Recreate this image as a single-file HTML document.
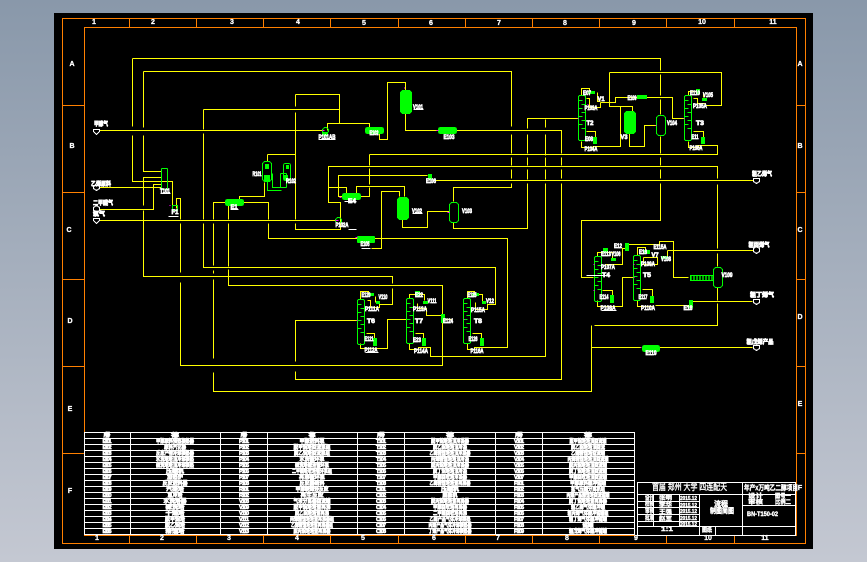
<!DOCTYPE html>
<html><head><meta charset="utf-8"><style>
html,body{margin:0;padding:0;width:867px;height:562px;overflow:hidden;background:linear-gradient(#8998aa,#c4c8d2)}
svg{display:block;position:absolute;left:0;top:0}
text{font-family:"Liberation Sans","Noto Sans CJK SC",sans-serif;fill:#fff}
.l text{font-size:6px;font-weight:bold;stroke:#fff;stroke-width:.7;text-anchor:middle}
.t text{font-size:5.5px;font-weight:bold;stroke:#fff;stroke-width:.65;text-anchor:middle}
.z text{font-size:7px;font-weight:bold;stroke:#fff;stroke-width:.3;text-anchor:middle}
.b text{stroke:#fff;stroke-width:.4}
</style></head><body>
<svg width="867" height="562" viewBox="0 0 867 562" xmlns="http://www.w3.org/2000/svg">
<defs>
<g id="col">
<path d="M1 0H6L7 1V44L6 45H1L0 44V1Z" fill="none" stroke="#0f0"/>
<path d="M0 5H4M3 9H7M0 13H4M3 17H7M0 21H4M3 25H7M0 29H4M3 33H7" stroke="#0f0" fill="none"/>
</g>
</defs>
<rect x="54" y="13" width="759" height="536" fill="#000"/>
<g transform="translate(.5,.5)" fill="none" shape-rendering="crispEdges">
<g stroke="#ff8000">
<rect x="62" y="18" width="743" height="525"/>
<rect x="84" y="27" width="712" height="508"/>
<path d="M129 18V27M196 18V27M263 18V27M330 18V27M398 18V27M465 18V27M532 18V27M599 18V27M666 18V27M734 18V27"/>
<path d="M129 535V543M196 535V543M263 535V543M330 535V543M398 535V543M465 535V543M532 535V543M599 535V543M666 535V543M734 535V543"/>
<path d="M62 105H84M62 192H84M62 279H84M62 366H84M62 453H84"/>
<path d="M796 105H805M796 192H805M796 279H805M796 366H805M796 453H805"/>
</g>
<g stroke="#ff0">
<path d="M132 58V126M132 135V181H172V207"/>
<path d="M132 58H660V70M660 74V95M660 99V114M660 136V153M660 157V165M660 169V178M660 183V220H581V277H593"/>
<path d="M143 71H511V126M511 134V153M511 157V165M511 169V178M511 183V187H453V201"/>
<path d="M143 71V127M143 135V171H161M161 177H143V205M143 210V276H392V283M392 288V304H379V307H367"/>
<path d="M98 187H161M99 209H153V184H161"/>
<path d="M99 220H336M95 130H322"/>
<path d="M203 109H339M295 94H339V123M327 130V123H369V127"/>
<path d="M203 109V129M203 133V219M203 223V267H495V304H487V309H475"/>
<path d="M295 94V106M295 112V219M295 223V229H340V202H328V166H717V178M717 184V248M717 253V266M717 287V300M717 303V325H594"/>
<path d="M591 325V391H213V372M213 358V279M213 273V270M213 265V223M213 219V202H226"/>
<path d="M228 205V219M228 223V266M228 269V285H442V314M442 322V365H180V282M180 272V223M180 219V198H176V208"/>
<path d="M243 202H268V219M268 223V238H357M374 238H507V347H474"/>
<path d="M371 248H381V191H399V196M402 219V227H427V211H449"/>
<path d="M453 222V228H527V183M527 179V169M527 165V157M527 153V134M527 128V118H577"/>
<path d="M545 119V127M545 134V155M545 157V166M545 169V179M545 183V356H430V347H418"/>
<path d="M456 130H561V153M561 157V165M561 169V178M561 183V379H295V371M295 361V320H356"/>
<path d="M379 133V139H387V82H405V90M405 113V130H436"/>
<path d="M369 154V165M369 168V184M369 187V196H360M369 154H717V145H696"/>
<path d="M427 175H338V196H342M346 193V187H328M356 195V186H404V196"/>
<path d="M432 180H753"/>
<path d="M264 182V196H239V202M267 154H295M267 154V161"/>
<!-- top right -->
<path d="M581 95V88H589V92M597 92V101H600M600 102H615V97H637M646 97H672V118H684"/>
<path d="M586 98H589V107H600V102M609 72V106H632V111M609 72H721V105H705"/>
<path d="M620 106V146H592M586 131H595V137M581 141V147H593M629 133V146H644V125H655"/>
<path d="M688 95V91H697M703 92V97M693 98H697V103H705M693 131H703V137M688 141V147H700"/>
<!-- bottom right -->
<path d="M597 256V252H612V259M605 264H622V248H625M628 244H659V241H673V277H688"/>
<path d="M581 277H593M602 290H612V295M597 300V306H622V277H633M637 255V247H645V251"/>
<path d="M667 250H754M667 250V257M643 257H657V264H643V257M642 289H652V296M637 300V306H653M655 305H689M692 301H752"/>
<path d="M591 347H641M659 347H752"/>
<!-- mid -->
<path d="M360 299V291H368V294M375 296V302M367 300H370V307H379V302M366 333H374V338M360 343V348H387V319H406"/>
<path d="M409 298V294H415M419 294H424V300M417 303V308H426V315H441M415 333H423V338M409 343V349H418V347H430V356"/>
<path d="M444 319H452"/>
<path d="M467 298V291H474V294M478 294H482V303M475 302V309H487V304M472 333H481V338M467 343V349H474V347H507"/>
</g>
<g stroke="#0f0">
<!-- vessels -->
<rect x="400" y="90" width="11" height="23" rx="3" fill="#0f0"/>
<rect x="397" y="197" width="11" height="22" rx="3" fill="#0f0"/>
<rect x="624" y="111" width="11" height="22" rx="3" fill="#0f0"/>
<rect x="449" y="202" width="9" height="20" rx="3"/>
<rect x="656" y="115" width="9" height="20" rx="3"/>
<rect x="713" y="267" width="9" height="20" rx="3"/>
<rect x="161" y="168" width="6" height="21" rx="1"/>
<rect x="262" y="161" width="9" height="20" rx="3"/>
<rect x="283" y="163" width="7" height="17" rx="2"/>
<rect x="280" y="173" width="6" height="14" rx="1"/>
<path d="M267 181V190H281M272 173V187H280"/>
<rect x="264" y="175" width="5" height="6" fill="#0f0"/>
<rect x="265" y="164" width="3" height="4" fill="#0f0"/>
<rect x="284" y="175" width="3" height="4" fill="#0f0"/>
<rect x="286" y="165" width="2" height="3" fill="#0f0"/>
<!-- exchangers -->
<rect x="225" y="199" width="18" height="6" rx="2" fill="#0f0"/>
<rect x="365" y="127" width="18" height="6" rx="2" fill="#0f0"/>
<rect x="438" y="127" width="18" height="6" rx="2" fill="#0f0"/>
<rect x="342" y="193" width="18" height="6" rx="2" fill="#0f0"/>
<rect x="357" y="236" width="17" height="6" rx="1" fill="#0f0"/>
<rect x="642" y="345" width="17" height="6" rx="2" fill="#0f0"/>
<rect x="637" y="95" width="9" height="3" fill="#0f0"/>
<rect x="690" y="275" width="23" height="5" fill="#0a0"/>
<path d="M692 275V280M695 275V280M698 275V280M701 275V280M704 275V280M707 275V280M710 275V280" stroke="#000"/>
<path d="M690 275H713V280H690Z"/>
<!-- pumps -->
<circle cx="325" cy="130" r="3"/>
<rect x="322" y="132" width="5" height="3" fill="#0f0"/>
<circle cx="338" cy="220" r="3"/>
<rect x="172" y="205" width="5" height="5"/>
<rect x="428" y="174" width="3" height="5" fill="#0f0"/>
<use href="#col" x="578" y="95"/>
<use href="#col" x="684" y="95"/>
<use href="#col" x="594" y="256"/>
<use href="#col" x="633" y="255"/>
<use href="#col" x="357" y="299"/>
<use href="#col" x="406" y="298"/>
<use href="#col" x="463" y="298"/>
<!-- small blocks -->
<g fill="#0f0">
<rect x="588" y="91" width="6" height="2"/>
<rect x="593" y="137" width="3" height="6"/>
<rect x="696" y="89" width="3" height="4"/>
<rect x="702" y="98" width="4" height="2"/>
<rect x="701" y="137" width="3" height="6"/>
<rect x="603" y="248" width="4" height="4"/>
<rect x="611" y="258" width="4" height="2"/>
<rect x="610" y="295" width="3" height="7"/>
<rect x="625" y="243" width="3" height="7"/>
<rect x="643" y="250" width="6" height="3"/>
<rect x="661" y="256" width="6" height="2"/>
<rect x="650" y="296" width="3" height="6"/>
<rect x="689" y="300" width="3" height="7"/>
<rect x="369" y="293" width="4" height="2"/>
<rect x="376" y="301" width="3" height="2"/>
<rect x="373" y="338" width="3" height="7"/>
<rect x="415" y="291" width="4" height="5"/>
<rect x="423" y="301" width="4" height="2"/>
<rect x="422" y="338" width="3" height="7"/>
<rect x="441" y="314" width="3" height="8"/>
<rect x="472" y="293" width="6" height="2"/>
<rect x="482" y="301" width="3" height="2"/>
<rect x="480" y="338" width="3" height="7"/>
</g>
</g>
<g stroke="#f0f">
<path d="M322 130H324M335 220H338M436 130H438M404 87V88M447 212H449M339 197H341M355 237H357M169 205H170M577 118H578M683 118H684M655 125H656M587 104H588M593 290H594M633 277H634M356 320H357M463 319H464M640 347H641M593 264H594M633 264H634"/>
</g>
<g stroke="#fff">
<rect x="84" y="432" width="550" height="102"/>
<path d="M84 438H634M84 444H634M84 450H634M84 456H634M84 462H634M84 468H634M84 474H634M84 480H634M84 486H634M84 492H634M84 498H634M84 504H634M84 510H634M84 516H634M84 522H634M84 528H634"/>
<path d="M130 432V534M220 432V534M267 432V534M357 432V534M404 432V534M495 432V534M542 432V534"/>
<rect x="637" y="482" width="158" height="53"/>
<path d="M637 494H795M637 501H699M637 507H699M637 514H699M637 521H699M637 526H795M742 482V535M699 494V535M715 526V535M742 505H795M653 494V526M679 494V526"/>
<path d="M318 139H335M348 229H356M413 109H423M412 213H422M361 248H370M160 193H170M168 216H178M230 209H238M344 201H356M586 275H610M601 310H616M365 352H378"/>
</g>
<g stroke="#fff" fill="#000">
<path d="M93 129H99V131L96 134L93 131Z"/>
<path d="M93 185H99V188L96 190L93 188Z"/>
<path d="M93 207L96 205L99 207V210L96 212L93 210Z"/>
<path d="M93 218H99V220L96 223L93 220Z"/>
<path d="M753 178H759V181L756 183L753 181Z"/>
<path d="M753 248L756 246L759 248V251L756 253L753 251Z"/>
<path d="M753 299H759V302L756 304L753 302Z"/>
<path d="M753 345H759V348L756 350L753 348Z"/>
</g>
</g>
<g class="z">
<text x="94" y="24">1</text><text x="153" y="24">2</text><text x="232" y="24">3</text><text x="298" y="24">4</text><text x="364" y="25">5</text><text x="431" y="25">6</text><text x="499" y="25">7</text><text x="565" y="25">8</text><text x="634" y="25">9</text><text x="702" y="24">10</text><text x="773" y="24">11</text>
<text x="97" y="540">1</text><text x="162" y="540">2</text><text x="229" y="540">3</text><text x="297" y="540">4</text><text x="363" y="540">5</text><text x="434" y="540">6</text><text x="498" y="540">7</text><text x="567" y="540">8</text><text x="636" y="540">9</text><text x="708" y="540">10</text><text x="765" y="540">11</text>
<text x="72" y="66">A</text><text x="72" y="148">B</text><text x="69" y="232">C</text><text x="70" y="323">D</text><text x="70" y="411">E</text><text x="70" y="493">F</text>
<text x="800" y="66">A</text><text x="800" y="148">B</text><text x="800" y="232">C</text><text x="800" y="319">D</text><text x="800" y="406">E</text><text x="800" y="490">F</text>
</g>
<g class="l">
<text x="101" y="126" textLength="14" lengthAdjust="spacingAndGlyphs">甲醇气</text>
<text x="101" y="186" textLength="20" lengthAdjust="spacingAndGlyphs">乙烯原料</text>
<text x="103" y="205" textLength="20" lengthAdjust="spacingAndGlyphs">二甲醚气</text>
<text x="99" y="216" textLength="12" lengthAdjust="spacingAndGlyphs">氧气</text>
<text x="762" y="176" textLength="20" lengthAdjust="spacingAndGlyphs">粗乙烯气</text>
<text x="759" y="247" textLength="21" lengthAdjust="spacingAndGlyphs">粗丙烯气</text>
<text x="762" y="297" textLength="24" lengthAdjust="spacingAndGlyphs">粗丁烯气</text>
<text x="760" y="344" textLength="27" lengthAdjust="spacingAndGlyphs">粗戊烯产品</text>
<text x="165" y="193" textLength="10" lengthAdjust="spacingAndGlyphs">T101</text>
<text x="175" y="214" textLength="7" lengthAdjust="spacingAndGlyphs">F1</text>
<text x="234" y="209" textLength="7" lengthAdjust="spacingAndGlyphs">E1</text>
<text x="257" y="176" textLength="9" lengthAdjust="spacingAndGlyphs">R101</text>
<text x="291" y="183" textLength="10" lengthAdjust="spacingAndGlyphs">R102</text>
<text x="327" y="139" textLength="17" lengthAdjust="spacingAndGlyphs">P101AB</text>
<text x="342" y="227" textLength="13" lengthAdjust="spacingAndGlyphs">P102A</text>
<text x="374" y="135" textLength="9" lengthAdjust="spacingAndGlyphs">E102</text>
<text x="418" y="109" textLength="10" lengthAdjust="spacingAndGlyphs">V101</text>
<text x="449" y="139" textLength="11" lengthAdjust="spacingAndGlyphs">E103</text>
<text x="352" y="203" textLength="8" lengthAdjust="spacingAndGlyphs">E4</text>
<text x="417" y="213" textLength="10" lengthAdjust="spacingAndGlyphs">V102</text>
<text x="467" y="213" textLength="10" lengthAdjust="spacingAndGlyphs">V103</text>
<text x="365" y="246" textLength="9" lengthAdjust="spacingAndGlyphs">E105</text>
<text x="431" y="183" textLength="10" lengthAdjust="spacingAndGlyphs">E106</text>
<text x="587" y="95" textLength="8" lengthAdjust="spacingAndGlyphs">E07</text>
<text x="601" y="101" textLength="7" lengthAdjust="spacingAndGlyphs">V1</text>
<text x="591" y="110" textLength="13" lengthAdjust="spacingAndGlyphs">P103A</text>
<text x="590" y="125" textLength="7" lengthAdjust="spacingAndGlyphs">T2</text>
<text x="589" y="141" textLength="8" lengthAdjust="spacingAndGlyphs">E08</text>
<text x="591" y="151" textLength="13" lengthAdjust="spacingAndGlyphs">P104A</text>
<text x="632" y="100" textLength="9" lengthAdjust="spacingAndGlyphs">E109</text>
<text x="624" y="139" textLength="7" lengthAdjust="spacingAndGlyphs">V3</text>
<text x="672" y="125" textLength="10" lengthAdjust="spacingAndGlyphs">V104</text>
<text x="695" y="95" textLength="10" lengthAdjust="spacingAndGlyphs">E110</text>
<text x="708" y="97" textLength="10" lengthAdjust="spacingAndGlyphs">V105</text>
<text x="700" y="108" textLength="14" lengthAdjust="spacingAndGlyphs">P105A</text>
<text x="700" y="125" textLength="8" lengthAdjust="spacingAndGlyphs">T3</text>
<text x="695" y="139" textLength="7" lengthAdjust="spacingAndGlyphs">E11</text>
<text x="696" y="150" textLength="13" lengthAdjust="spacingAndGlyphs">P106A</text>
<text x="618" y="248" textLength="8" lengthAdjust="spacingAndGlyphs">E12</text>
<text x="606" y="256" textLength="10" lengthAdjust="spacingAndGlyphs">E113</text>
<text x="616" y="256" textLength="9" lengthAdjust="spacingAndGlyphs">V106</text>
<text x="608" y="269" textLength="14" lengthAdjust="spacingAndGlyphs">P107A</text>
<text x="606" y="277" textLength="8" lengthAdjust="spacingAndGlyphs">T4</text>
<text x="604" y="299" textLength="9" lengthAdjust="spacingAndGlyphs">E114</text>
<text x="608" y="310" textLength="15" lengthAdjust="spacingAndGlyphs">P108A</text>
<text x="660" y="249" textLength="13" lengthAdjust="spacingAndGlyphs">E115A</text>
<text x="643" y="254" textLength="8" lengthAdjust="spacingAndGlyphs">E16</text>
<text x="655" y="257" textLength="7" lengthAdjust="spacingAndGlyphs">V7</text>
<text x="666" y="261" textLength="10" lengthAdjust="spacingAndGlyphs">V108</text>
<text x="648" y="266" textLength="14" lengthAdjust="spacingAndGlyphs">P109A</text>
<text x="647" y="277" textLength="8" lengthAdjust="spacingAndGlyphs">T5</text>
<text x="643" y="299" textLength="9" lengthAdjust="spacingAndGlyphs">E117</text>
<text x="648" y="310" textLength="14" lengthAdjust="spacingAndGlyphs">P110A</text>
<text x="688" y="310" textLength="9" lengthAdjust="spacingAndGlyphs">E18</text>
<text x="727" y="277" textLength="11" lengthAdjust="spacingAndGlyphs">V109</text>
<text x="651" y="355" textLength="11" lengthAdjust="spacingAndGlyphs">E119</text>
<text x="366" y="297" textLength="9" lengthAdjust="spacingAndGlyphs">E120</text>
<text x="383" y="299" textLength="9" lengthAdjust="spacingAndGlyphs">V110</text>
<text x="372" y="311" textLength="14" lengthAdjust="spacingAndGlyphs">P111A</text>
<text x="371" y="323" textLength="8" lengthAdjust="spacingAndGlyphs">T6</text>
<text x="369" y="341" textLength="9" lengthAdjust="spacingAndGlyphs">E121</text>
<text x="371" y="352" textLength="13" lengthAdjust="spacingAndGlyphs">P112A</text>
<text x="419" y="297" textLength="8" lengthAdjust="spacingAndGlyphs">E22</text>
<text x="432" y="303" textLength="9" lengthAdjust="spacingAndGlyphs">V111</text>
<text x="420" y="311" textLength="14" lengthAdjust="spacingAndGlyphs">P113A</text>
<text x="419" y="323" textLength="8" lengthAdjust="spacingAndGlyphs">T7</text>
<text x="417" y="342" textLength="8" lengthAdjust="spacingAndGlyphs">E23</text>
<text x="421" y="353" textLength="14" lengthAdjust="spacingAndGlyphs">P114A</text>
<text x="448" y="323" textLength="10" lengthAdjust="spacingAndGlyphs">E124</text>
<text x="472" y="297" textLength="9" lengthAdjust="spacingAndGlyphs">E125</text>
<text x="490" y="303" textLength="8" lengthAdjust="spacingAndGlyphs">V12</text>
<text x="478" y="312" textLength="14" lengthAdjust="spacingAndGlyphs">P115A</text>
<text x="478" y="323" textLength="8" lengthAdjust="spacingAndGlyphs">T8</text>
<text x="473" y="341" textLength="9" lengthAdjust="spacingAndGlyphs">E126</text>
<text x="477" y="353" textLength="13" lengthAdjust="spacingAndGlyphs">P116A</text>
</g>
<g class="t">
<text x="107" y="437" textLength="7">序号</text><text x="175" y="437" textLength="8">名称</text><text x="244" y="437" textLength="7">序号</text><text x="312" y="437" textLength="7">名称</text><text x="381" y="437" textLength="8">序号</text><text x="450" y="437" textLength="8">名称</text><text x="519" y="437" textLength="8">序号</text><text x="588" y="437" textLength="8">名称</text>
<text x="107" y="443" textLength="9">E101</text><text x="175" y="443" textLength="38" lengthAdjust="spacingAndGlyphs">甲醇原料预热换热器</text><text x="244" y="443" textLength="10">P101</text><text x="312" y="443" textLength="25" lengthAdjust="spacingAndGlyphs">甲醇进料泵</text><text x="381" y="443" textLength="10">T101</text><text x="450" y="443" textLength="38" lengthAdjust="spacingAndGlyphs">脱甲烷塔塔顶冷凝器</text><text x="519" y="443" textLength="10">V101</text><text x="588" y="443" textLength="37" lengthAdjust="spacingAndGlyphs">脱甲烷塔塔顶回流罐</text>
<text x="107" y="449" textLength="9">E102</text><text x="175" y="449" textLength="22" lengthAdjust="spacingAndGlyphs">原料汽化器</text><text x="244" y="449" textLength="10">P102</text><text x="312" y="449" textLength="37" lengthAdjust="spacingAndGlyphs">脱甲烷塔回流泵组</text><text x="381" y="449" textLength="10">T102</text><text x="450" y="449" textLength="34" lengthAdjust="spacingAndGlyphs">脱乙烷塔塔顶冷凝</text><text x="519" y="449" textLength="10">V102</text><text x="588" y="449" textLength="34" lengthAdjust="spacingAndGlyphs">脱乙烷塔塔顶回流</text>
<text x="107" y="455" textLength="9">E103</text><text x="175" y="455" textLength="38" lengthAdjust="spacingAndGlyphs">反应产物冷却换热器</text><text x="244" y="455" textLength="10">P103</text><text x="312" y="455" textLength="36" lengthAdjust="spacingAndGlyphs">脱乙烷塔回流泵组</text><text x="381" y="455" textLength="10">T103</text><text x="450" y="455" textLength="41" lengthAdjust="spacingAndGlyphs">乙烯精馏塔塔顶冷凝器</text><text x="519" y="455" textLength="10">V103</text><text x="588" y="455" textLength="34" lengthAdjust="spacingAndGlyphs">乙烯精馏塔回流罐</text>
<text x="107" y="461" textLength="9">E104</text><text x="175" y="461" textLength="38" lengthAdjust="spacingAndGlyphs">水洗塔塔顶冷却换热</text><text x="244" y="461" textLength="10">P104</text><text x="312" y="461" textLength="25" lengthAdjust="spacingAndGlyphs">水洗循环泵</text><text x="381" y="461" textLength="10">T104</text><text x="450" y="461" textLength="38" lengthAdjust="spacingAndGlyphs">丙烯精馏塔塔顶冷凝</text><text x="519" y="461" textLength="10">V104</text><text x="588" y="461" textLength="41" lengthAdjust="spacingAndGlyphs">丙烯精馏塔塔顶回流罐</text>
<text x="107" y="467" textLength="9">E105</text><text x="175" y="467" textLength="38" lengthAdjust="spacingAndGlyphs">碱洗塔塔顶冷却换热</text><text x="244" y="467" textLength="10">P105</text><text x="312" y="467" textLength="34" lengthAdjust="spacingAndGlyphs">碱洗塔碱液循环泵</text><text x="381" y="467" textLength="10">T105</text><text x="450" y="467" textLength="38" lengthAdjust="spacingAndGlyphs">脱丙烷塔塔顶冷凝器</text><text x="519" y="467" textLength="10">V105</text><text x="588" y="467" textLength="38" lengthAdjust="spacingAndGlyphs">脱丙烷塔塔顶回流罐</text>
<text x="107" y="473" textLength="9">E106</text><text x="175" y="473" textLength="18" lengthAdjust="spacingAndGlyphs">压缩机</text><text x="244" y="473" textLength="10">P106</text><text x="312" y="473" textLength="40" lengthAdjust="spacingAndGlyphs">二甲醚吸收塔循环泵组</text><text x="381" y="473" textLength="10">T106</text><text x="450" y="473" textLength="34" lengthAdjust="spacingAndGlyphs">脱丁烷塔塔顶冷凝</text><text x="519" y="473" textLength="10">V106</text><text x="588" y="473" textLength="38" lengthAdjust="spacingAndGlyphs">脱丁烷塔塔顶回流罐</text>
<text x="107" y="479" textLength="9">E107</text><text x="175" y="479" textLength="16" lengthAdjust="spacingAndGlyphs">加热炉</text><text x="244" y="479" textLength="10">P107</text><text x="312" y="479" textLength="26" lengthAdjust="spacingAndGlyphs">再沸循环泵</text><text x="381" y="479" textLength="10">T107</text><text x="450" y="479" textLength="34" lengthAdjust="spacingAndGlyphs">甲醇回收塔冷凝器</text><text x="519" y="479" textLength="10">V107</text><text x="588" y="479" textLength="38" lengthAdjust="spacingAndGlyphs">甲醇回收塔顶回流罐</text>
<text x="107" y="485" textLength="9">E108</text><text x="175" y="485" textLength="25" lengthAdjust="spacingAndGlyphs">反应进料器</text><text x="244" y="485" textLength="10">P108</text><text x="312" y="485" textLength="25" lengthAdjust="spacingAndGlyphs">反应器给料</text><text x="381" y="485" textLength="10">T108</text><text x="450" y="485" textLength="41" lengthAdjust="spacingAndGlyphs">乙烯精馏塔塔釜再沸器</text><text x="519" y="485" textLength="10">F101</text><text x="588" y="485" textLength="36" lengthAdjust="spacingAndGlyphs">甲醇原料缓冲储罐</text>
<text x="107" y="491" textLength="9">E109</text><text x="175" y="491" textLength="18" lengthAdjust="spacingAndGlyphs">汽提塔</text><text x="244" y="491" textLength="10">R101</text><text x="312" y="491" textLength="33" lengthAdjust="spacingAndGlyphs">甲醇制烯烃反应</text><text x="381" y="491" textLength="10">C101</text><text x="450" y="491" textLength="18" lengthAdjust="spacingAndGlyphs">压缩机</text><text x="519" y="491" textLength="10">F102</text><text x="588" y="491" textLength="34" lengthAdjust="spacingAndGlyphs">氢气压缩分离机组</text>
<text x="107" y="497" textLength="9">E110</text><text x="175" y="497" textLength="15" lengthAdjust="spacingAndGlyphs">急冷塔</text><text x="244" y="497" textLength="10">R102</text><text x="312" y="497" textLength="23" lengthAdjust="spacingAndGlyphs">再生反应</text><text x="381" y="497" textLength="10">C102</text><text x="450" y="497" textLength="15" lengthAdjust="spacingAndGlyphs">膨胀机</text><text x="519" y="497" textLength="10">F103</text><text x="588" y="497" textLength="43" lengthAdjust="spacingAndGlyphs">丙烯产品精馏塔回流储罐</text>
<text x="107" y="503" textLength="9">E111</text><text x="175" y="503" textLength="23" lengthAdjust="spacingAndGlyphs">水洗塔器</text><text x="244" y="503" textLength="10">V108</text><text x="312" y="503" textLength="37" lengthAdjust="spacingAndGlyphs">气液分离器回流罐</text><text x="381" y="503" textLength="10">C103</text><text x="450" y="503" textLength="38" lengthAdjust="spacingAndGlyphs">脱丙烷塔塔釜再沸器</text><text x="519" y="503" textLength="10">F104</text><text x="588" y="503" textLength="38" lengthAdjust="spacingAndGlyphs">脱丁烷塔塔釜再沸器</text>
<text x="107" y="509" textLength="9">E112</text><text x="175" y="509" textLength="19" lengthAdjust="spacingAndGlyphs">碱洗塔</text><text x="244" y="509" textLength="10">V109</text><text x="312" y="509" textLength="37" lengthAdjust="spacingAndGlyphs">脱甲烷塔塔釜再沸</text><text x="381" y="509" textLength="10">C104</text><text x="450" y="509" textLength="34" lengthAdjust="spacingAndGlyphs">甲醇回收塔再沸器</text><text x="519" y="509" textLength="10">F105</text><text x="588" y="509" textLength="34" lengthAdjust="spacingAndGlyphs">粗乙烯气体缓冲罐</text>
<text x="107" y="515" textLength="9">E113</text><text x="175" y="515" textLength="19" lengthAdjust="spacingAndGlyphs">干燥塔</text><text x="244" y="515" textLength="10">V110</text><text x="312" y="515" textLength="34" lengthAdjust="spacingAndGlyphs">脱乙烷塔塔釜再沸</text><text x="381" y="515" textLength="10">C105</text><text x="450" y="515" textLength="34" lengthAdjust="spacingAndGlyphs">二甲醚回收塔再沸</text><text x="519" y="515" textLength="10">F106</text><text x="588" y="515" textLength="41" lengthAdjust="spacingAndGlyphs">粗丙烯气体缓冲储罐组</text>
<text x="107" y="521" textLength="9">E114</text><text x="175" y="521" textLength="20" lengthAdjust="spacingAndGlyphs">脱甲烷塔</text><text x="244" y="521" textLength="10">V111</text><text x="312" y="521" textLength="44" lengthAdjust="spacingAndGlyphs">丙烯精馏塔塔釜再沸器组</text><text x="381" y="521" textLength="10">C106</text><text x="450" y="521" textLength="41" lengthAdjust="spacingAndGlyphs">乙烯产品气体冷却换热</text><text x="519" y="521" textLength="10">F107</text><text x="588" y="521" textLength="38" lengthAdjust="spacingAndGlyphs">粗丁烯气体缓冲储罐</text>
<text x="107" y="527" textLength="9">E115</text><text x="175" y="527" textLength="20" lengthAdjust="spacingAndGlyphs">脱乙烷塔</text><text x="244" y="527" textLength="10">V112</text><text x="312" y="527" textLength="42" lengthAdjust="spacingAndGlyphs">乙烯精馏塔塔釜再沸器组</text><text x="381" y="527" textLength="10">C107</text><text x="450" y="527" textLength="43" lengthAdjust="spacingAndGlyphs">丙烯产品气体冷却换热器</text><text x="519" y="527" textLength="10">F108</text><text x="588" y="527" textLength="11" lengthAdjust="spacingAndGlyphs">储罐</text>
<text x="107" y="533" textLength="9">E116</text><text x="175" y="533" textLength="19" lengthAdjust="spacingAndGlyphs">精馏塔</text><text x="244" y="533" textLength="10">V113</text><text x="312" y="533" textLength="37" lengthAdjust="spacingAndGlyphs">脱丙烷塔塔釜再沸器</text><text x="381" y="533" textLength="10">C108</text><text x="450" y="533" textLength="43" lengthAdjust="spacingAndGlyphs">丁烯产品气体冷却换热器</text><text x="519" y="533" textLength="10">F109</text><text x="588" y="533" textLength="38" lengthAdjust="spacingAndGlyphs">粗戊烯气体缓冲储罐</text>
</g>
<g class="b">
<text x="652" y="490" font-size="9" textLength="75" lengthAdjust="spacingAndGlyphs">首届 郑州 大学 四连配天</text>
<text x="744" y="490" font-size="7" font-weight="bold" textLength="54" lengthAdjust="spacingAndGlyphs">年产x万吨乙二醇项目</text>
<text x="714" y="506" font-size="7" font-weight="bold" textLength="14" lengthAdjust="spacingAndGlyphs">流程</text>
<text x="710" y="513" font-size="7" font-weight="bold" textLength="24" lengthAdjust="spacingAndGlyphs">制图简图</text>
<text x="748" y="498" font-size="6" font-weight="bold" textLength="15" lengthAdjust="spacingAndGlyphs">设计</text>
<text x="748" y="504" font-size="6" font-weight="bold" textLength="15" lengthAdjust="spacingAndGlyphs">审核</text>
<text x="775" y="498" font-size="6" font-weight="bold" textLength="16" lengthAdjust="spacingAndGlyphs">图号一</text>
<text x="775" y="504" font-size="6" font-weight="bold" textLength="16" lengthAdjust="spacingAndGlyphs">比例二</text>
<text x="747" y="516" font-size="6" font-weight="bold" textLength="31" lengthAdjust="spacingAndGlyphs">BN-T150-02</text>
<text x="645" y="500" font-size="6" font-weight="bold" textLength="9" lengthAdjust="spacingAndGlyphs">设计</text>
<text x="645" y="506" font-size="6" font-weight="bold" textLength="9" lengthAdjust="spacingAndGlyphs">校核</text>
<text x="645" y="513" font-size="6" font-weight="bold" textLength="9" lengthAdjust="spacingAndGlyphs">审核</text>
<text x="645" y="520" font-size="6" font-weight="bold" textLength="9" lengthAdjust="spacingAndGlyphs">批准</text>
<text x="659" y="500" font-size="6" font-weight="bold" textLength="13" lengthAdjust="spacingAndGlyphs">张明</text>
<text x="659" y="507" font-size="6" font-weight="bold" textLength="13" lengthAdjust="spacingAndGlyphs">李华</text>
<text x="659" y="514" font-size="6" font-weight="bold" textLength="13" lengthAdjust="spacingAndGlyphs">王强</text>
<text x="659" y="521" font-size="6" font-weight="bold" textLength="13" lengthAdjust="spacingAndGlyphs">赵军</text>
<text x="680" y="500" font-size="5" font-weight="bold" textLength="17" lengthAdjust="spacingAndGlyphs">2015.12</text>
<text x="680" y="507" font-size="5" font-weight="bold" textLength="17" lengthAdjust="spacingAndGlyphs">2015.12</text>
<text x="680" y="513" font-size="5" font-weight="bold" textLength="17" lengthAdjust="spacingAndGlyphs">2015.12</text>
<text x="680" y="520" font-size="5" font-weight="bold" textLength="17" lengthAdjust="spacingAndGlyphs">2015.12</text>
<text x="680" y="526" font-size="5" font-weight="bold" textLength="17" lengthAdjust="spacingAndGlyphs">2015.12</text>
<text x="661" y="531" font-size="6" font-weight="bold" textLength="12" lengthAdjust="spacingAndGlyphs">1:1</text>
<text x="702" y="532" font-size="6" font-weight="bold" textLength="10" lengthAdjust="spacingAndGlyphs">图纸</text>
</g>
</svg>
</body></html>
